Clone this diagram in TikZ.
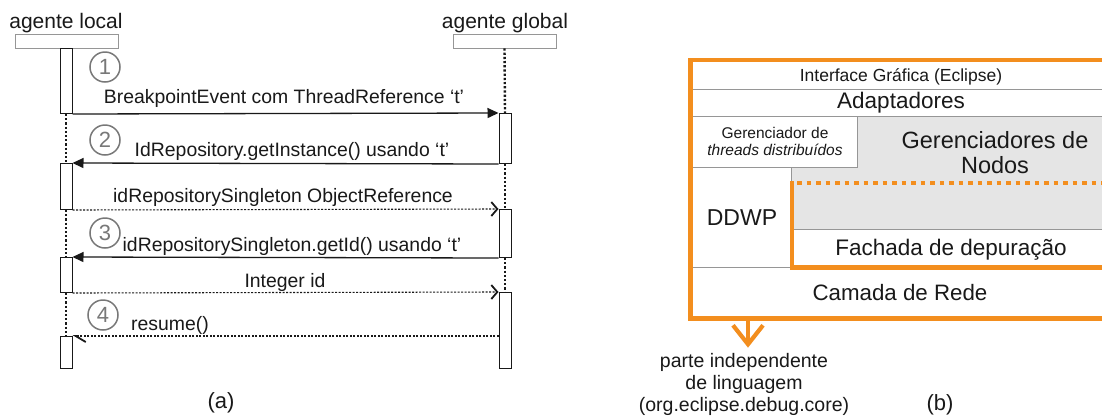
\documentclass[tikz,border=0pt]{standalone}
\usepackage{fontspec}
\setmainfont{Liberation Sans}
\usetikzlibrary{arrows.meta}

\definecolor{layerorange}{RGB}{243,142,30}
\definecolor{cellgray}{RGB}{229,229,229}
\definecolor{rulegray}{RGB}{150,150,150}
\definecolor{numgray}{RGB}{120,120,120}
\definecolor{ink}{RGB}{25,25,25}

\newcommand{\fsz}[1]{\fontsize{#1}{#1}\selectfont}

\tikzset{
  headbox/.style={draw=rulegray, line width=0.8pt, fill=white, minimum width=103pt,
    minimum height=14pt, inner sep=0pt},
  actbar/.style={draw=ink, line width=1pt, fill=white, minimum width=12pt,
    inner sep=0pt, anchor=north},
  lifeline/.style={ink, line width=2.4pt, dash pattern=on 2.2pt off 2pt},
  callmsg/.style={ink, line width=1.3pt, -{Triangle[length=11pt,width=10pt]}},
  retmsg/.style={ink, line width=1.1pt, dash pattern=on 2pt off 1.5pt,
    -{Straight Barb[length=6pt,width=14pt,line width=1.8pt]}},
  halfmsg/.style={ink, line width=1.1pt, dash pattern=on 2pt off 1.5pt,
    -{Straight Barb[harpoon,length=10pt,width=12pt,line width=1.8pt]}},
  msglabel/.style={anchor=base, inner sep=0pt, text=ink, font=\fsz{19.4}},
  title/.style={anchor=base, inner sep=0pt, text=ink, font=\fsz{21}},
  numcirc/.style={circle, draw=numgray, line width=1.5pt, text=numgray,
    minimum size=30pt, inner sep=0pt, font=\fsz{22}},
  cellrule/.style={draw=rulegray, line width=0.9pt},
  layertext/.style={anchor=base, inner sep=0pt, text=ink},
  orangeframe/.style={draw=layerorange, line width=4.5pt, line join=miter},
  orangedots/.style={draw=layerorange, line width=4.5pt, dash pattern=on 4.5pt off 5pt},
  orangearrow/.style={draw=layerorange, line width=4.2pt,
    -{Straight Barb[length=19pt,width=30pt]}},
}

\begin{document}
\begin{tikzpicture}[x=1pt, y=-1pt]
\useasboundingbox[fill=white] (0,0) rectangle (1102,416);

% ---------------- (a) sequence of messages ----------------
\node[title] (tl) at (66,28) {agente local};
\node[title] (tg) at (505,28) {agente global};
\node[headbox] (hl) at (66.5,41) {};
\node[headbox] (hg) at (504.5,41) {};

% activation bars
\node[actbar, minimum height=65pt] (l1) at (66,48) {};
\node[actbar, minimum height=46pt] (l2) at (66,163) {};
\node[actbar, minimum height=35pt] (l3) at (66,257) {};
\node[actbar, minimum height=32pt] (l4) at (66,336) {};
\node[actbar, minimum height=50pt] (g1) at (505,113) {};
\node[actbar, minimum height=48pt] (g2) at (505,209) {};
\node[actbar, minimum height=76pt] (g3) at (505,292) {};

% lifelines between activations
\draw[lifeline] (l1.south) -- (l2.north);
\draw[lifeline] (l2.south) -- (l3.north);
\draw[lifeline] (l3.south) -- (l4.north);
\draw[lifeline] (hg.south) -- (g1.north);
\draw[lifeline] (g1.south) -- (g2.north);
\draw[lifeline] (g2.south) -- (g3.north);

% messages
\draw[callmsg] (l1.south east) -- (g1.north west);
\draw[callmsg] (g1.south west) -- (l2.north east);
\draw[retmsg]  (l2.south east) -- (g2.north west);
\draw[callmsg] (g2.south west) -- (l3.north east);
\draw[retmsg]  (l3.south east) -- (g3.north west);
\draw[halfmsg] (g3.west |- l4.north) -- (l4.north east);

% message labels
\node[msglabel] (m1) at (284,103.5) {BreakpointEvent com ThreadReference ‘t’};
\node[msglabel] (m2) at (292,156) {IdRepository.getInstance() usando ‘t’};
\node[msglabel] (m3) at (283,202) {idRepositorySingleton ObjectReference};
\node[msglabel] (m4) at (292,251.5) {idRepositorySingleton.getId() usando ‘t’};
\node[msglabel] (m5) at (285,287) {Integer id};
\node[msglabel] (m6) at (170,330) {resume()};

% step numbers
\node[numcirc] (c1) at (105,67) {1};
\node[numcirc] (c2) at (105,140) {2};
\node[numcirc] (c3) at (105,233) {3};
\node[numcirc] (c4) at (103,315) {4};

\node[title, font=\fsz{22}] (capa) at (221,408) {(a)};

% ---------------- (b) layers ----------------
\fill[white] (690,60) rectangle (1102,318);
% shaded area of the node managers
\fill[cellgray] (857,116) -- (1102,116) -- (1102,229) -- (792,229)
  -- (792,167) -- (857,167) -- cycle;
% thin cell rules
\draw[cellrule] (693,89) -- (1102,89);
\draw[cellrule] (693,116) -- (1102,116);
\draw[cellrule] (693,167) -- (857,167) -- (857,116);
\draw[cellrule] (791,167) -- (791,267);
\draw[cellrule] (792,229) -- (1102,229);
\draw[cellrule] (693,267) -- (792,267);

% language independent part
\draw[orangedots] (797,183) -- (1102,183);
\draw[orangeframe] (1102,267.5) -- (792,267.5) -- (792,181);
% outer frame
\draw[orangeframe] (1102,60) -- (690.5,60) -- (690.5,318.5) -- (1102,318.5);

% layer texts
\node[layertext, font=\fsz{17.5}] (gui) at (901,81) {Interface Gráfica (Eclipse)};
\node[layertext, font=\fsz{22.5}] (adapt) at (901,108) {Adaptadores};
\node[layertext, font=\fsz{15.5}] (gt1) at (775,138) {Gerenciador de};
\node[layertext, font=\fsz{15.5}\itshape] (gt2) at (775,155) {threads distribuídos};
\node[layertext, font=\fsz{23.5}] (gn1) at (995,148) {Gerenciadores de};
\node[layertext, font=\fsz{23.5}] (gn2) at (995,173) {Nodos};
\node[layertext, font=\fsz{23}] (ddwp) at (742,225) {DDWP};
\node[layertext, font=\fsz{22.5}] (fach) at (951,255) {Fachada de depuração};
\node[layertext, font=\fsz{22.3}] (rede) at (900,300) {Camada de Rede};

% note below the frame
\node[layertext, font=\fsz{19.5}] (dep1) at (744,367) {parte independente};
\node[layertext, font=\fsz{19.5}] (dep2) at (744,389) {de linguagem};
\node[layertext, font=\fsz{19.5}] (dep3) at (744,411) {(org.eclipse.debug.core)};
\coordinate (src) at (748,320);
\draw[orangearrow, shorten >=5pt] (src) -- (src |- dep1.north);

\node[title, font=\fsz{22}] (capb) at (940,410) {(b)};
\end{tikzpicture}
\end{document}
